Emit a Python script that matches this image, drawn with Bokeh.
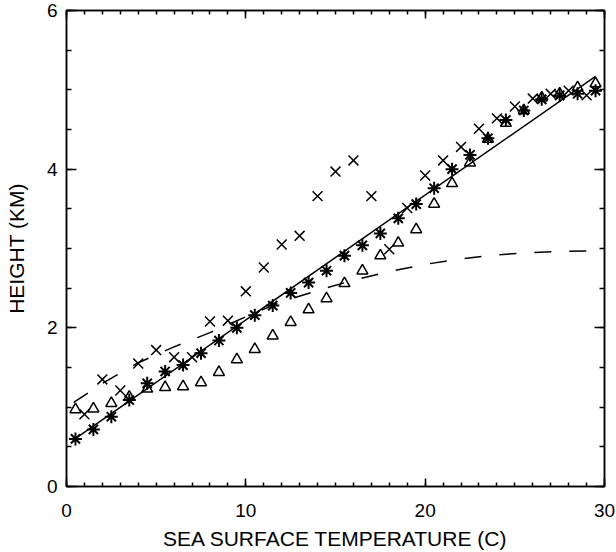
from bokeh.plotting import figure
from bokeh.models import LinearAxis, FixedTicker, Range1d
from bokeh.embed import file_html
from bokeh.resources import INLINE

# ---- data ----
star_x = [0.5, 1.5, 2.5, 3.5, 4.5, 5.5, 6.5, 7.5, 8.5, 9.5, 10.5, 11.5, 12.5, 13.5, 14.5,
          15.5, 16.5, 17.5, 18.5, 19.5, 20.5, 21.5, 22.5, 23.5, 24.5, 25.5, 26.5, 27.5, 28.5, 29.5]
star_y = [0.60, 0.72, 0.88, 1.09, 1.30, 1.45, 1.53, 1.68, 1.84, 2.00, 2.16, 2.28, 2.44, 2.57, 2.72,
          2.91, 3.04, 3.19, 3.38, 3.56, 3.76, 4.00, 4.18, 4.39, 4.62, 4.74, 4.88, 4.93, 4.95, 4.99]

tri_x = [0.5, 1.5, 2.5, 3.5, 4.5, 5.5, 6.5, 7.5, 8.5, 9.5, 10.5, 11.5, 12.5, 13.5, 14.5,
         15.5, 16.5, 17.5, 18.5, 19.5, 20.5, 21.5, 22.5, 23.5, 24.5, 25.5, 26.5, 27.5, 28.5, 29.5]
tri_y = [0.97, 0.98, 1.05, 1.13, 1.23, 1.25, 1.26, 1.31, 1.44, 1.60, 1.73, 1.90, 2.07, 2.23, 2.37,
         2.56, 2.72, 2.91, 3.07, 3.24, 3.56, 3.82, 4.08, 4.38, 4.58, 4.74, 4.90, 4.95, 5.03, 5.08]

cross_x = [1, 2, 3, 4, 5, 6, 7, 8, 9, 10, 11, 12, 13, 14, 15, 16, 17, 18, 19, 20,
           21, 22, 23, 24, 25, 26, 27, 28, 29]
cross_y = [0.91, 1.35, 1.21, 1.55, 1.72, 1.63, 1.63, 2.08, 2.09, 2.46, 2.76, 3.05, 3.16, 3.66, 3.97,
           4.11, 3.66, 2.99, 3.51, 3.92, 4.11, 4.28, 4.51, 4.64, 4.79, 4.89, 4.95, 4.99, 4.93]

fit_x = [0.35, 29.5]
fit_y = [0.58, 5.17]

curve_x = [0.4, 2, 4, 6, 8, 10, 12, 14, 16, 18, 20, 22, 24, 26, 28, 30]
curve_y = [1.06, 1.30, 1.56, 1.76, 1.94, 2.14, 2.33, 2.47, 2.60, 2.71, 2.80, 2.87, 2.92, 2.95, 2.965, 2.97]

x_ticks = [0, 10, 20, 30]
x_minor = list(range(0, 31))
y_ticks = [0, 2, 4, 6]
y_minor = [i * 0.5 for i in range(0, 13)]

x_title = "SEA SURFACE TEMPERATURE (C)"
y_title = "HEIGHT (KM)"

FONT = "Liberation Sans"

p = figure(width=616, height=552, x_range=Range1d(0, 30), y_range=Range1d(0, 6),
           output_backend="svg", toolbar_location=None,
           min_border_left=66, min_border_right=12, min_border_top=10, min_border_bottom=60)
p.grid.visible = False
p.background_fill_color = "white"
p.border_fill_color = "white"
p.outline_line_color = "black"
p.outline_line_width = 1.5


def style_axis(ax, ticks, minor, major_len, minor_len, labels=True):
    ax.ticker = FixedTicker(ticks=ticks, minor_ticks=minor)
    ax.axis_line_color = "black"
    ax.axis_line_width = 1.5
    ax.major_tick_in = major_len
    ax.major_tick_out = 0
    ax.minor_tick_in = minor_len
    ax.minor_tick_out = 0
    ax.major_tick_line_width = 1.5
    ax.minor_tick_line_width = 1.5
    ax.major_tick_line_color = "black"
    ax.minor_tick_line_color = "black"
    if labels:
        ax.major_label_text_font = FONT
        ax.major_label_text_font_size = "19px"
        ax.major_label_text_color = "black"
    else:
        ax.major_label_text_font_size = "0px"
        ax.major_label_standoff = 0


xa = p.xaxis[0]
style_axis(xa, x_ticks, x_minor, 8, 4)
xa.major_label_standoff = 17
xa.axis_label = x_title
xa.axis_label_text_font = FONT
xa.axis_label_text_font_size = "21px"
xa.axis_label_text_font_style = "normal"
xa.axis_label_text_color = "black"
xa.axis_label_standoff = 7

ya = p.yaxis[0]
style_axis(ya, y_ticks, y_minor, 10, 5)
ya.major_label_standoff = 9
ya.axis_label = y_title
ya.axis_label_text_font = FONT
ya.axis_label_text_font_size = "21px"
ya.axis_label_text_font_style = "normal"
ya.axis_label_text_color = "black"
ya.axis_label_standoff = 16

top = LinearAxis()
style_axis(top, x_ticks, x_minor, 8, 4, labels=False)
p.add_layout(top, "above")

right = LinearAxis()
style_axis(right, y_ticks, y_minor, 10, 5, labels=False)
p.add_layout(right, "right")

p.line(curve_x, curve_y, line_color="black", line_width=1.5, line_dash="17 18")
p.line(fit_x, fit_y, line_color="black", line_width=1.5)

p.scatter(tri_x, tri_y, marker="triangle", size=11, fill_color=None,
          line_color="black", line_width=1.5)
p.scatter(cross_x, cross_y, marker="x", size=14, line_color="black", line_width=1.5)
p.scatter(star_x, star_y, marker="asterisk", size=13, line_color="black", line_width=2)

open("out.html", "w").write(file_html(p, INLINE))
